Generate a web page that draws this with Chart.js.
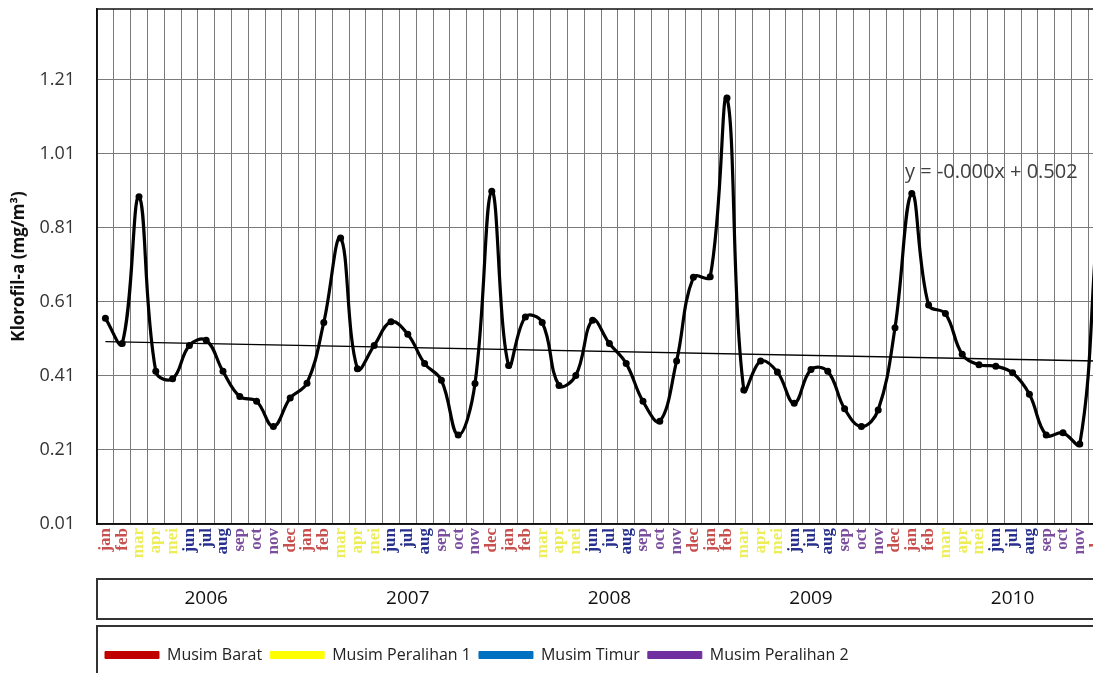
<!DOCTYPE html>
<html>
<head>
<meta charset="utf-8">
<title>Klorofil-a 2006-2010</title>
<script src="https://cdn.jsdelivr.net/npm/chart.js@4.4.1/dist/chart.umd.min.js"></script>
<style>
  html, body { margin: 0; padding: 0; background: #fff; overflow: hidden; }
  #wrap { width: 1110px; height: 673px; }
</style>
</head>
<body>
<div id="wrap"><canvas id="chart"></canvas></div>
<script>
// month names as on the axis, one set per year
var monthNames = ['jan', 'feb', 'mar', 'apr', 'mei', 'jun', 'jul', 'aug', 'sep', 'oct', 'nov', 'dec'];
var years = ['2006', '2007', '2008', '2009', '2010'];
var yTicks = [0.01, 0.21, 0.41, 0.61, 0.81, 1.01, 1.21];

// klorofil-a (mg/m3)
var k2006 = [0.565, 0.497, 0.893, 0.422, 0.402, 0.492, 0.506, 0.422, 0.354, 0.341, 0.273, 0.350];
var k2007 = [0.390, 0.554, 0.782, 0.429, 0.492, 0.556, 0.522, 0.443, 0.398, 0.250, 0.389, 0.908];
var k2008 = [0.438, 0.569, 0.554, 0.384, 0.411, 0.560, 0.497, 0.443, 0.341, 0.287, 0.450, 0.676];
var k2009 = [0.677, 1.160, 0.372, 0.450, 0.420, 0.336, 0.427, 0.422, 0.321, 0.273, 0.318, 0.540];
var k2010 = [0.902, 0.601, 0.578, 0.468, 0.440, 0.436, 0.418, 0.360, 0.250, 0.256, 0.226, 0.790];

// linear trend, first and last month
var trendEnds = [0.502, 0.450];
var trendText = 'y = -0.000x + 0.502';

// seasons
var seasonNames = ['Musim Barat', 'Musim Peralihan 1', 'Musim Timur', 'Musim Peralihan 2'];
var seasonColors = ['#c00000', '#ffff00', '#0070c0', '#7030a0'];
var labelColors = ['#c8504f', '#eded58', '#27308c', '#7b4f9e'];
var monthSeason = [0, 0, 1, 1, 1, 2, 2, 2, 3, 3, 3, 0];

var months = [];
years.forEach(function() { months = months.concat(monthNames); });
var klorofil = k2006.concat(k2007, k2008, k2009, k2010);
var last = months.length - 1;

var datasets = [{
	label: 'Klorofil-a',
	data: klorofil,
	xAxisID: 'x',
	borderColor: '#000',
	backgroundColor: '#000',
	borderWidth: 3.2,
	tension: 0.4,
	pointRadius: 3.5,
	pointBackgroundColor: '#000',
	pointBorderWidth: 0
}, {
	label: 'trend',
	data: [{x: 0, y: trendEnds[0]}, {x: last, y: trendEnds[1]}],
	xAxisID: 'x2',
	borderColor: '#000',
	borderWidth: 1.3,
	pointRadius: 0,
	tension: 0
}];
seasonNames.forEach(function(name, i) {
	datasets.push({
		label: name,
		data: [],
		xAxisID: 'x',
		borderColor: seasonColors[i],
		backgroundColor: seasonColors[i],
		borderWidth: 1
	});
});

// frames, year box, legend box and the trend equation
var framePlugin = {
	id: 'frames',
	afterDraw: function(chart) {
		var ctx = chart.ctx;
		var a = chart.chartArea;
		var x2 = chart.scales.x2;
		var y = chart.scales.y;
		ctx.save();
		ctx.strokeStyle = '#111';
		ctx.lineWidth = 1.5;
		ctx.strokeRect(a.left, a.top, a.right - a.left, a.bottom - a.top);

		ctx.strokeStyle = '#333';
		ctx.lineWidth = 2;
		ctx.strokeRect(a.left, x2.top, chart.width + 10 - a.left, 40);
		ctx.strokeRect(a.left, x2.top + 47, chart.width + 10 - a.left, 60);

		ctx.fillStyle = '#404040';
		ctx.font = '20px "Open Sans"';
		ctx.textBaseline = 'middle';
		ctx.fillText(trendText, x2.getPixelForValue(47.6), y.getPixelForValue(0.958));
		ctx.restore();
	}
};

new Chart(document.getElementById('chart'), {
	type: 'line',
	data: { labels: months, datasets: datasets },
	plugins: [framePlugin],
	options: {
		responsive: true,
		maintainAspectRatio: false,
		animation: false,
		layout: { padding: { top: 9, right: 5, bottom: 0, left: 0 } },
		scales: {
			x: {
				type: 'category',
				offset: true,
				grid: { offset: true, color: '#7a7a7a', lineWidth: 1, drawTicks: false },
				border: { color: '#111', width: 1.5 },
				ticks: {
					autoSkip: false,
					minRotation: 90,
					maxRotation: 90,
					padding: 4,
					font: { family: '"Liberation Serif"', size: 17, weight: 'bold' },
					color: function(c) { return labelColors[monthSeason[c.index % 12]]; }
				},
				afterFit: function(s) {
					s.height = 55;
					s.paddingLeft = 0;
					s.paddingRight = 0;
				}
			},
			x2: {
				type: 'linear',
				position: 'bottom',
				min: -0.5,
				max: last + 0.5,
				grid: { display: false },
				border: { display: false },
				ticks: {
					autoSkip: false,
					padding: 0,
					color: '#111',
					font: { family: '"Open Sans"', size: 19 },
					callback: function(v) { return years[Math.round((v - 6) / 12)]; }
				},
				afterBuildTicks: function(s) {
					s.ticks = years.map(function(yr, i) { return { value: i * 12 + 6 }; });
				},
				afterFit: function(s) {
					s.height = 60;
					s.paddingLeft = 0;
					s.paddingRight = 0;
				}
			},
			y: {
				min: 0.01,
				max: 1.4,
				grid: { color: '#7a7a7a', lineWidth: 1, drawTicks: false },
				border: { color: '#111', width: 1.5 },
				ticks: {
					padding: 22,
					color: '#333',
					font: { family: '"Open Sans"', size: 18 },
					callback: function(v) { return Number(v).toFixed(2); }
				},
				afterBuildTicks: function(s) {
					s.ticks = yTicks.map(function(v) { return { value: v }; });
				},
				title: {
					display: true,
					text: 'Klorofil-a (mg/m³)',
					color: '#111',
					padding: { top: 9, bottom: 0 },
					font: { family: '"Open Sans"', size: 17, weight: 'bold' }
				},
				afterFit: function(s) {
					s.width = 97;
					s.paddingTop = 0;
					s.paddingBottom = 0;
				}
			}
		},
		plugins: {
			tooltip: { enabled: false },
			legend: {
				position: 'bottom',
				align: 'start',
				fullSize: false,
				labels: {
					boxWidth: 54,
					boxHeight: 7,
					padding: 8,
					color: '#222',
					font: { family: '"Open Sans"', size: 16 },
					filter: function(item) { return item.datasetIndex >= 2; }
				}
			}
		}
	}
});
</script>
</body>
</html>
